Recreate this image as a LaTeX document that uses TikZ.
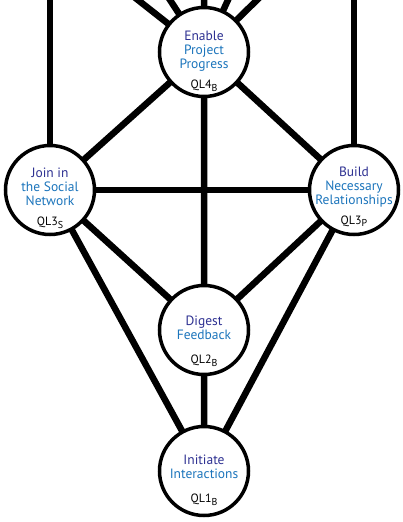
\documentclass[tikz,border=0pt]{standalone}
\usepackage{fontspec}
\setmainfont{PT Sans}
\definecolor{firstline}{RGB}{46,49,146}
\definecolor{restline}{RGB}{28,117,188}
\begin{document}
\begin{tikzpicture}[x=1pt,y=-1pt,
  edge/.style={line width=6.5pt},
  topic/.style={circle,draw=black,line width=3.5pt,fill=white,minimum size=89pt,inner sep=0pt},
  topictext/.style={inner sep=0pt,align=center,font=\fontsize{13.5}{14}\selectfont,text=restline},
  ql/.style={font=\fontsize{12}{12}\selectfont,inner sep=0pt,text=black}]
\useasboundingbox (0,0) rectangle (402,522);
\clip (0,0) rectangle (402,522);
\fill[white] (0,0) rectangle (402,522);
% positions
\coordinate (tc) at (204,52);
\coordinate (lc) at (50,190);
\coordinate (rc) at (354,190);
\coordinate (mc) at (204,330);
\coordinate (bc) at (204,471);
% free ends at top
\coordinate (u1) at (125.3,-10);
\coordinate (u2) at (163.5,-10);
\coordinate (u3) at (204,-10);
\coordinate (u4) at (232.6,-10);
\coordinate (u5) at (267.2,-10);
\coordinate (ul) at (50,-10);
\coordinate (ur) at (354,-10);
% connectors
\draw[edge] (tc) -- (u1) (tc) -- (u2) (tc) -- (u3) (tc) -- (u4) (tc) -- (u5);
\draw[edge] (lc) -- (ul) (rc) -- (ur);
\draw[edge] (tc) -- (lc) (tc) -- (rc) (tc) -- (mc);
\draw[edge] (lc) -- (rc);
\draw[edge] (lc) -- (mc) (rc) -- (mc);
\draw[edge] (lc) -- (bc) (rc) -- (bc) (mc) -- (bc);
% circles
\node[topic] (t) at (tc) {};
\node[topic] (l) at (lc) {};
\node[topic] (r) at (rc) {};
\node[topic] (m) at (mc) {};
\node[topic] (b) at (bc) {};
% texts
\node[topictext] (tt) at ([yshift=1pt]t.center) {\textcolor{firstline}{Enable}\\Project\\Progress};
\node[topictext] (lt) at ([yshift=3pt]l.center) {\textcolor{firstline}{Join in}\\the Social\\Network};
\node[topictext] (rt) at ([yshift=3pt]r.center) {\textcolor{firstline}{Build}\\Necessary\\Relationships};
\node[topictext] (mt) at ([yshift=2pt]m.center) {\textcolor{firstline}{Digest}\\Feedback};
\node[topictext] (bt) at ([yshift=4.5pt]b.center) {\textcolor{firstline}{Initiate}\\Interactions};
% level labels
\node[ql] (tq) at ([yshift=-34pt]t.center) {QL4\raisebox{-2.5pt}{\fontsize{10}{10}\selectfont B}};
\node[ql] (lq) at ([yshift=-33pt]l.center) {QL3\raisebox{-2.5pt}{\fontsize{10}{10}\selectfont S}};
\node[ql] (rq) at ([yshift=-31pt]r.center) {QL3\raisebox{-2.5pt}{\fontsize{10}{10}\selectfont P}};
\node[ql] (mq) at ([yshift=-31pt]m.center) {QL2\raisebox{-2.5pt}{\fontsize{10}{10}\selectfont B}};
\node[ql] (bq) at ([yshift=-29pt]b.center) {QL1\raisebox{-2.5pt}{\fontsize{10}{10}\selectfont B}};
\end{tikzpicture}
\end{document}
